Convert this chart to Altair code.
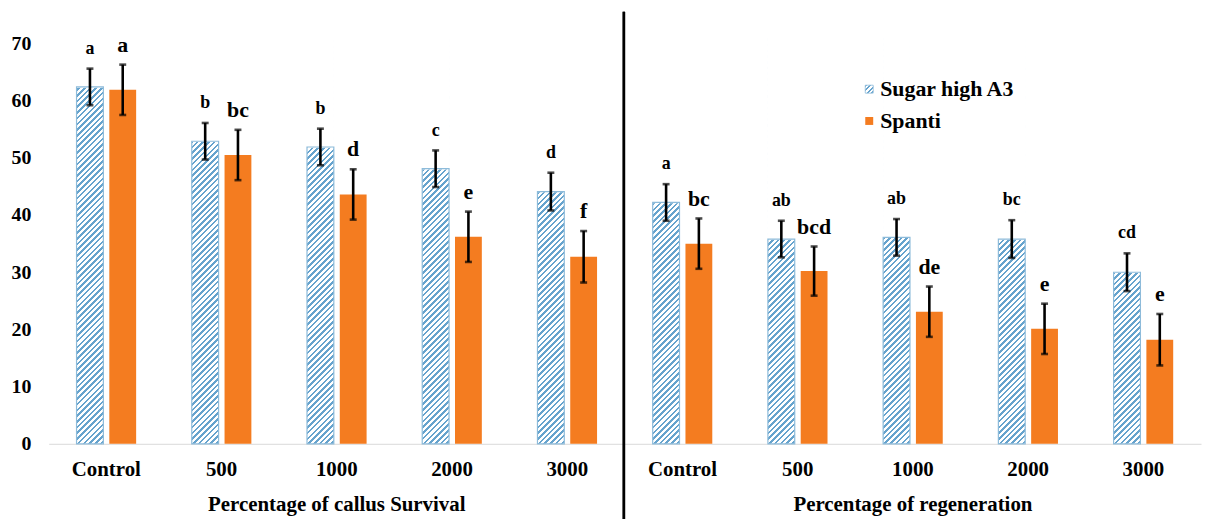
import altair as alt
import pandas as pd

# ---------------- data ----------------
concentrations = ["Control", "500", "1000", "2000", "3000"]
panel_titles = ["Percentage of callus Survival", "Percentage of regeneration"]
series_names = ["Sugar high A3", "Spanti"]

sugar_survival = [62.4, 52.9, 51.9, 48.1, 44.1]
sugar_survival_err = [3.2, 3.2, 3.2, 3.2, 3.3]
spanti_survival = [61.9, 50.5, 43.6, 36.2, 32.7]
spanti_survival_err = [4.4, 4.4, 4.4, 4.4, 4.5]

sugar_regen = [42.2, 35.8, 36.1, 35.8, 30.0]
sugar_regen_err = [3.2, 3.2, 3.2, 3.3, 3.3]
spanti_regen = [35.0, 30.2, 23.1, 20.1, 18.2]
spanti_regen_err = [4.4, 4.3, 4.4, 4.4, 4.5]

sugar_survival_letters = ["a", "b", "b", "c", "d"]
spanti_survival_letters = ["a", "bc", "d", "e", "f"]
sugar_regen_letters = ["a", "ab", "ab", "bc", "cd"]
spanti_regen_letters = ["bc", "bcd", "de", "e", "e"]

y_ticks = [0, 10, 20, 30, 40, 50, 60, 70]

# ---------------- table ----------------
panels = [
    (0, [(series_names[0], sugar_survival, sugar_survival_err, sugar_survival_letters),
         (series_names[1], spanti_survival, spanti_survival_err, spanti_survival_letters)]),
    (1, [(series_names[0], sugar_regen, sugar_regen_err, sugar_regen_letters),
         (series_names[1], spanti_regen, spanti_regen_err, spanti_regen_letters)]),
]
keys = [f"{p}|{c}" for p, _ in panels for c in concentrations]
rows = []
for p, series in panels:
    for name, vals, errs, lets in series:
        for c, v, e, l in zip(concentrations, vals, errs, lets):
            rows.append({"key": f"{p}|{c}", "series": name, "value": v,
                         "lo": v - e, "hi": v + e, "letter": l})
df = pd.DataFrame(rows)
titles_df = pd.DataFrame({"key": [f"0|{concentrations[2]}", f"1|{concentrations[2]}"],
                          "title": panel_titles})

# hatch tiles (pure decoration): the blue column is tiled by short hatched pieces
# so the stripe gradient stays sharp; a white cover then trims it at the bar value.
Y_MAX = 70
SEG = 5
tile_rows = [{"key": k, "series": series_names[0], "b": b, "t": b + SEG + 1}
             for k in keys for b in range(0, Y_MAX, SEG)]
tiles = pd.DataFrame(tile_rows)

# ---------------- styles ----------------
FONT = "Liberation Serif"
ORANGE = "#F47C20"
STRIPE = "#66A3CD"
BORDER = "#8DBBDA"
W, H = 1160, 403
BAR_W = 27
PX = H / Y_MAX  # pixels per unit


def hatch(w, h, period, duty=0.45, color=STRIPE):
    a = (w + h) / (w * w + h * h)
    total = w + h
    stops = []
    k = 0
    while k * period < total:
        s = k * period / total
        e = min((k + duty) * period / total, 1.0)
        n = min((k + 1) * period / total, 1.0)
        stops += [alt.GradientStop(color=color, offset=s),
                  alt.GradientStop(color=color, offset=e),
                  alt.GradientStop(color="#ffffff", offset=e),
                  alt.GradientStop(color="#ffffff", offset=n)]
        k += 1
    return alt.Gradient(gradient="linear", stops=stops, x1=0, y1=0, x2=a * w, y2=a * h)


x_scale = alt.Scale(domain=keys, paddingInner=56 / 116, paddingOuter=28 / 116)
x_axis = alt.Axis(title=None, labelExpr="split(datum.label, '|')[1]", labelAngle=0,
                  labelFont=FONT, labelFontWeight="bold", labelFontSize=21, labelColor="black",
                  labelPadding=15, ticks=False, tickSize=0, domain=True, domainColor="#d9d9d9",
                  domainWidth=1, grid=False)
y_scale = alt.Scale(domain=[0, Y_MAX], nice=False, zero=True)
y_axis = alt.Axis(title=None, values=y_ticks, labelFont=FONT, labelFontWeight="bold",
                  labelFontSize=20, labelColor="black", labelPadding=18, ticks=False,
                  domain=False, grid=False)

x_enc = alt.X("key:N", scale=x_scale, axis=x_axis, sort=keys)
xo = alt.XOffset("series:N", scale=alt.Scale(domain=series_names, paddingInner=6 / 33,
                                              paddingOuter=0), sort=series_names)

base = alt.Chart(df)
blue = base.transform_filter(alt.datum.series == series_names[0])
orange = base.transform_filter(alt.datum.series == series_names[1])

hatch_layer = alt.Chart(tiles).mark_bar(
    fill=hatch(BAR_W, (SEG + 1) * PX, period=PX), strokeWidth=0).encode(
    x=x_enc, xOffset=xo,
    y=alt.Y("b:Q", scale=y_scale, axis=y_axis), y2="t:Q")

cover_layer = blue.mark_bar(color="white", stroke="white", strokeWidth=1.5).encode(
    x=x_enc, xOffset=xo,
    y=alt.Y("value:Q", scale=y_scale, axis=y_axis),
    y2=alt.Y2(datum=Y_MAX + 2))

border_layer = blue.mark_bar(fillOpacity=0, stroke=BORDER, strokeWidth=1.2).encode(
    x=x_enc, xOffset=xo,
    y=alt.Y("value:Q", scale=y_scale, axis=y_axis))

orange_layer = orange.mark_bar(color=ORANGE).encode(
    x=x_enc, xOffset=xo,
    y=alt.Y("value:Q", scale=y_scale, axis=y_axis))

err_layer = base.mark_rule(color="black", strokeWidth=2.6).encode(
    x=x_enc, xOffset=xo,
    y=alt.Y("lo:Q", scale=y_scale, axis=y_axis), y2="hi:Q")

cap_layer = base.transform_fold(["lo", "hi"], as_=["end", "pos"]).mark_tick(
    color="black", thickness=2.6, size=7).encode(
    x=x_enc, xOffset=xo,
    y=alt.Y("pos:Q", scale=y_scale, axis=y_axis))

letter_layer = base.mark_text(font=FONT, fontWeight="bold", baseline="middle", dy=-20,
                              color="black").encode(
    x=x_enc, xOffset=xo,
    y=alt.Y("hi:Q", scale=y_scale, axis=y_axis),
    text="letter:N",
    size=alt.Size("series:N", scale=alt.Scale(domain=series_names, range=[18, 22]),
                  legend=None))

divider = alt.Chart(titles_df).mark_rule(color="black", strokeWidth=2.5).encode(
    x=alt.value(579), y=alt.value(-32), y2=alt.value(490))

title_layer = alt.Chart(titles_df).mark_text(font=FONT, fontWeight="bold", fontSize=21,
                                             baseline="middle", color="black").encode(
    x=alt.X("key:N", scale=x_scale, axis=x_axis, sort=keys),
    y=alt.value(465), text="title:N")

legend_src = alt.Chart(pd.DataFrame({"series": series_names}))
legend_hatch = legend_src.transform_filter(alt.datum.series == series_names[0]).mark_square(
    size=64, fill=hatch(8, 8, period=4.5), stroke=BORDER, strokeWidth=0.8,
    opacity=1).encode(x=alt.value(826), y=alt.value(46))
legend_orange = legend_src.transform_filter(alt.datum.series == series_names[1]).mark_square(
    size=64, color=ORANGE, opacity=1).encode(x=alt.value(826), y=alt.value(78))
legend_text1 = legend_src.transform_filter(alt.datum.series == series_names[0]).mark_text(
    font=FONT, fontWeight="bold", fontSize=22, align="left", baseline="middle",
    color="black").encode(x=alt.value(837), y=alt.value(46), text="series:N")
legend_text2 = legend_src.transform_filter(alt.datum.series == series_names[1]).mark_text(
    font=FONT, fontWeight="bold", fontSize=22, align="left", baseline="middle",
    color="black").encode(x=alt.value(837), y=alt.value(78), text="series:N")

chart = alt.layer(
    hatch_layer, cover_layer, border_layer, orange_layer, err_layer, cap_layer,
    letter_layer, divider, title_layer, legend_hatch, legend_orange,
    legend_text1, legend_text2
).properties(
    width=W, height=H,
    padding={"left": 41, "top": 34, "right": 2, "bottom": 74},
    autosize=alt.AutoSizeParams(type="none"),
    background="white",
).configure_view(stroke=None)

chart.save("out.html", embed_options={"renderer": "svg", "actions": False})
